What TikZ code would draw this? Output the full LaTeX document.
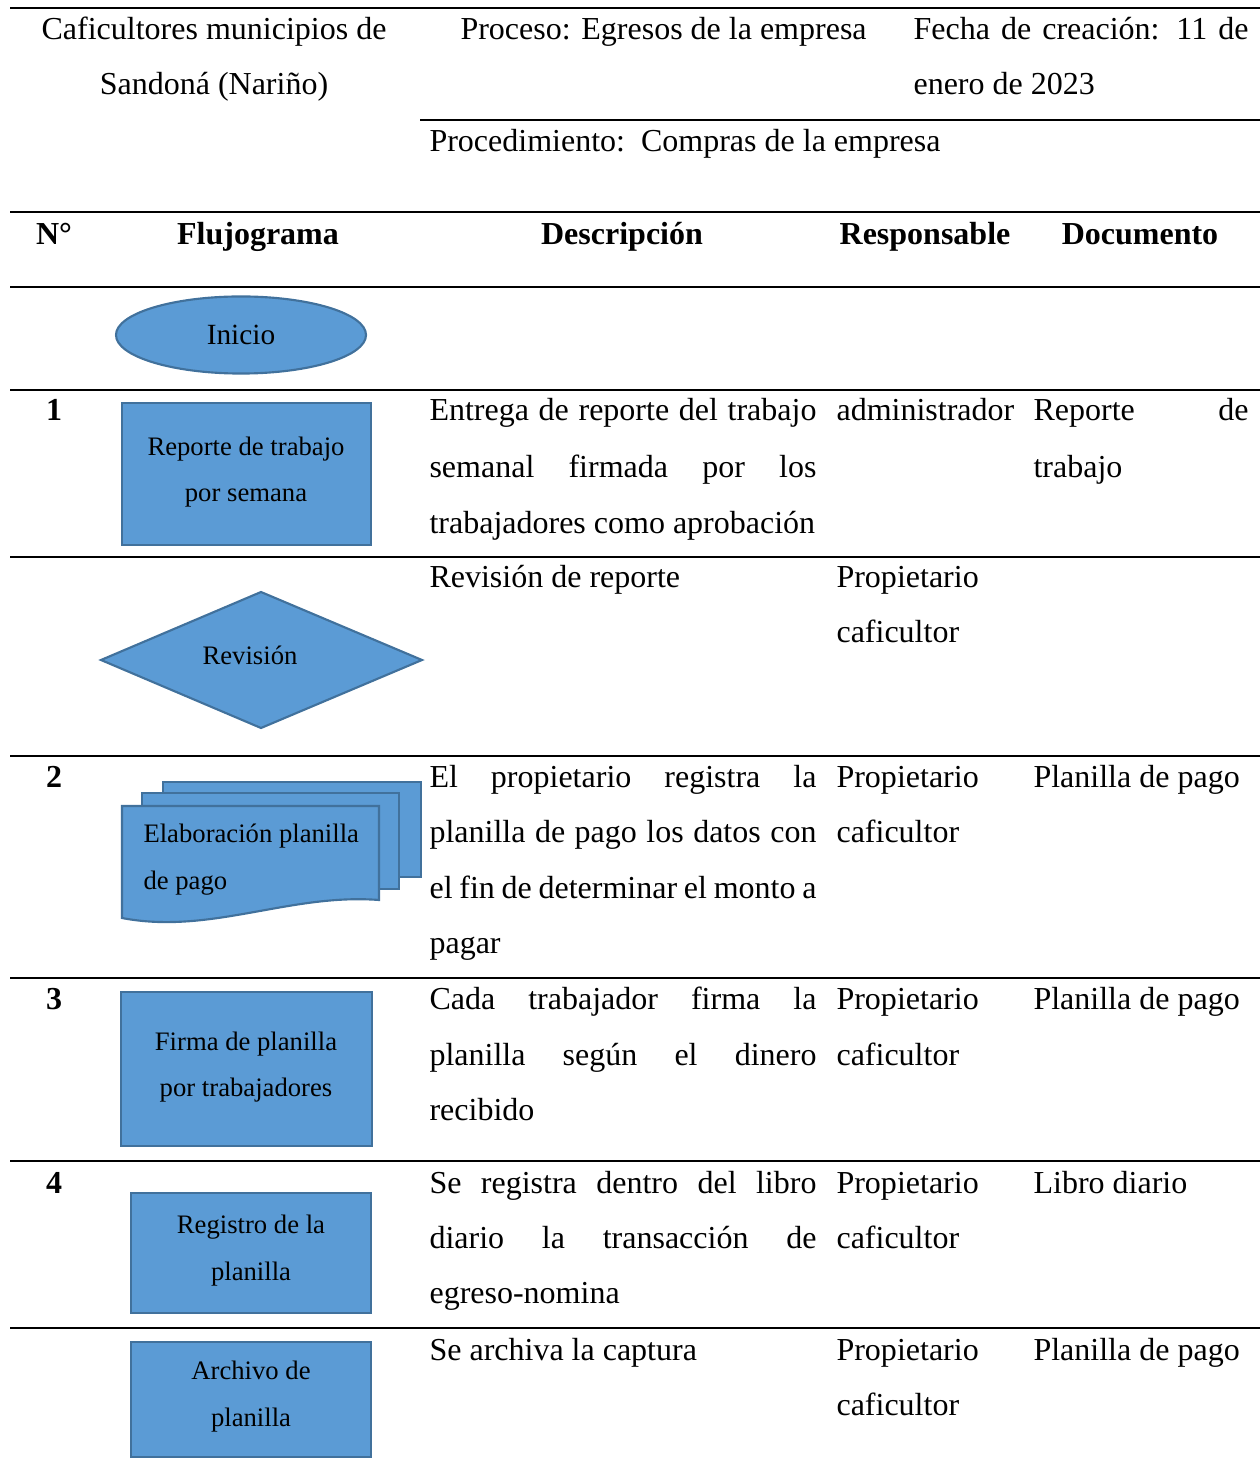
\documentclass[tikz,border=0pt]{standalone}
\usepackage{fontspec}
\setmainfont{Liberation Serif}
\usetikzlibrary{shapes.geometric}
\definecolor{fillblue}{HTML}{5B9BD5}
\definecolor{edgeblue}{HTML}{41719C}
\newcommand{\jl}[2]{\makebox[#1][s]{#2}}
\begin{document}
\begin{tikzpicture}[x=0.375pt,y=-0.375pt,
  rule/.style={line width=0.75pt},
  shp/.style={fill=fillblue,draw=edgeblue,line width=0.8pt},
  body/.style={font=\fontsize{12}{14}\selectfont,inner sep=0pt,anchor=base west,yshift=-0.75pt},
  bodyc/.style={font=\fontsize{12}{14}\selectfont,inner sep=0pt,anchor=base,yshift=-0.75pt},
  hd/.style={font=\fontsize{12}{14}\selectfont\bfseries,inner sep=0pt,anchor=base,yshift=-0.75pt},
  st/.style={font=\fontsize{10}{12}\selectfont,inner sep=0pt,anchor=base,yshift=-0.5pt},
  stl/.style={font=\fontsize{10}{12}\selectfont,inner sep=0pt,anchor=base west,yshift=-0.5pt}]
\useasboundingbox (0,0) rectangle (1260,1474);

% ---- rules
\foreach \yy in {8,212,287,390,557,756,978,1161,1328}
  \draw[rule] (10,\yy) -- (1260,\yy);
\draw[rule] (420,120) -- (1260,120);

% ---- header block
\node[bodyc] (h1a) at (214,38) {Caficultores municipios de};
\node[bodyc] (h1b) at (214,93) {Sandoná (Nariño)};
\node[body] (h2) at (460,38) {Proceso: Egresos de la empresa};
\node[body] (h3a) at (913,38) {\jl{125.6pt}{Fecha de creación: 11 de}};
\node[body] (h3b) at (913,93) {enero de 2023};
\node[body] (h4) at (429,150) {Procedimiento:\ \ Compras de la empresa};

% ---- column headings
\node[hd] (cn) at (54,243) {N°};
\node[hd] (cf) at (258,243) {Flujograma};
\node[hd] (cd) at (622,243) {Descripción};
\node[hd] (cr) at (925,243) {Responsable};
\node[hd] (cdoc) at (1140,243) {Documento};

% ---- Inicio
\node[shp,ellipse,minimum width=93.75pt,minimum height=28.9pt,inner sep=0pt,
      font=\fontsize{11}{13}\selectfont] (inicio) at (241,335) {\raisebox{-0.8pt}{Inicio}};

% ---- row 1
\node[hd] (n1) at (54,419) {1};
\draw[shp] (122,403) rectangle (371,545);
\node[st] (s1a) at (246,454) {Reporte de trabajo};
\node[st] (s1b) at (246,500) {por semana};
\node[body] (d1a) at (429,419) {\jl{145.1pt}{Entrega de reporte del trabajo}};
\node[body] (d1b) at (429,476) {\jl{145.1pt}{semanal firmada por los}};
\node[body] (d1c) at (429,532) {trabajadores como aprobación};
\node[body] (r1) at (836,419) {administrador};
\node[body] (o1a) at (1033,419) {\jl{80.6pt}{Reporte de}};
\node[body] (o1b) at (1033,476) {trabajo};

% ---- revision row
\draw[shp] (101,660) -- (261,592) -- (422,660) -- (261,728) -- cycle;
\node[st] (srev) at (250,663) {Revisión};
\node[body] (drev) at (429,586) {Revisión de reporte};
\node[body] (rreva) at (836,586) {Propietario};
\node[body] (rrevb) at (836,641) {caficultor};

% ---- row 2
\node[hd] (n2) at (54,785) {2};
\draw[shp] (163,782) rectangle (421,877);
\draw[shp] (142,793) rectangle (399,889);
\draw[shp] (122,806) -- (379,806) -- (379,900)
  .. controls (290,893) and (210,935) .. (122,918) -- cycle;
\node[stl] (s2a) at (143,841) {Elaboración planilla};
\node[stl] (s2b) at (143,888) {de pago};
\node[body] (d2a) at (429,785) {\jl{145.1pt}{El propietario registra la}};
\node[body] (d2b) at (429,840) {\jl{145.1pt}{planilla de pago los datos con}};
\node[body] (d2c) at (429,896) {\jl{145.1pt}{el fin de determinar el monto a}};
\node[body] (d2d) at (429,951) {pagar};
\node[body] (r2a) at (836,785) {Propietario};
\node[body] (r2b) at (836,840) {caficultor};
\node[body] (o2) at (1033,785) {Planilla de pago};

% ---- row 3
\node[hd] (n3) at (54,1007) {3};
\draw[shp] (121,992) rectangle (372,1146);
\node[st] (s3a) at (246,1049) {Firma de planilla};
\node[st] (s3b) at (246,1095) {por trabajadores};
\node[body] (d3a) at (429,1007) {\jl{145.1pt}{Cada trabajador firma la}};
\node[body] (d3b) at (429,1063) {\jl{145.1pt}{planilla según el dinero}};
\node[body] (d3c) at (429,1118) {recibido};
\node[body] (r3a) at (836,1007) {Propietario};
\node[body] (r3b) at (836,1063) {caficultor};
\node[body] (o3) at (1033,1007) {Planilla de pago};

% ---- row 4
\node[hd] (n4) at (54,1191) {4};
\draw[shp] (131,1193) rectangle (371,1313);
\node[st] (s4a) at (251,1232) {Registro de la};
\node[st] (s4b) at (251,1279) {planilla};
\node[body] (d4a) at (429,1191) {\jl{145.1pt}{Se registra dentro del libro}};
\node[body] (d4b) at (429,1246) {\jl{145.1pt}{diario la transacción de}};
\node[body] (d4c) at (429,1301) {egreso-nomina};
\node[body] (r4a) at (836,1191) {Propietario};
\node[body] (r4b) at (836,1246) {caficultor};
\node[body] (o4) at (1033,1191) {Libro diario};

% ---- row 5
\draw[shp] (131,1342) rectangle (371,1457);
\node[st] (s5a) at (251,1378) {Archivo de};
\node[st] (s5b) at (251,1425) {planilla};
\node[body] (d5) at (429,1358) {Se archiva la captura};
\node[body] (r5a) at (836,1358) {Propietario};
\node[body] (r5b) at (836,1413) {caficultor};
\node[body] (o5) at (1033,1358) {Planilla de pago};
\end{tikzpicture}
\end{document}
